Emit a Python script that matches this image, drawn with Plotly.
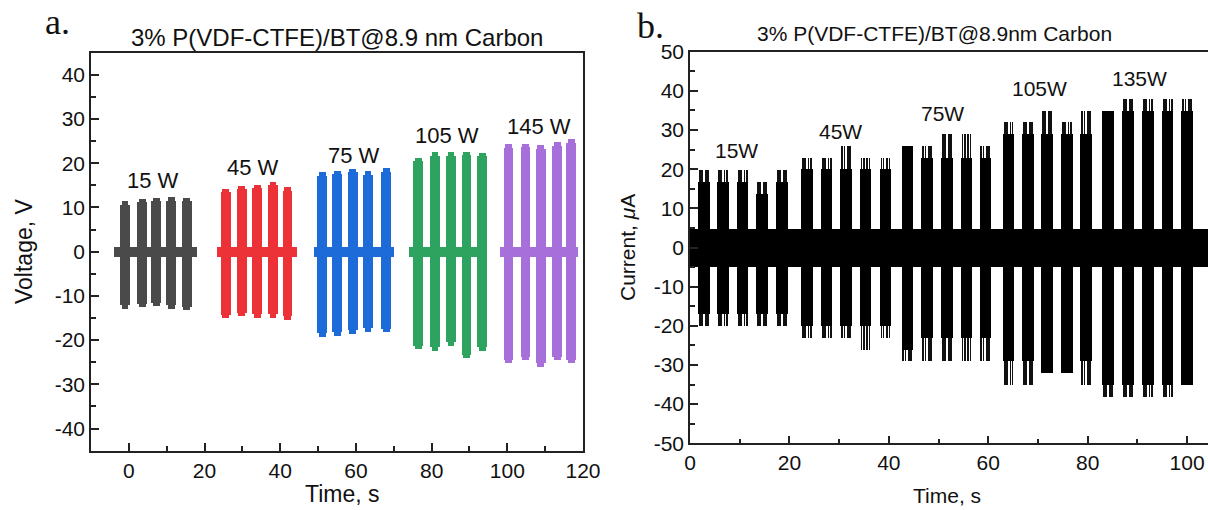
import plotly.graph_objects as go

# ---------------- Panel a: voltage bursts at five wind powers ----------------
powers_a = ["15 W", "45 W", "75 W", "105 W", "145 W"]
colors_a = ["#4a4a4a", "#ec3237", "#1c6bd8", "#2ea25f", "#a66fd9"]

# burst centre times (s) for each power level
t_a = [
    [-1.0, 3.5, 7.2, 11.2, 15.3],
    [25.6, 29.8, 33.9, 38.1, 41.9],
    [51.1, 55.1, 59.2, 63.2, 68.0],
    [76.5, 80.9, 85.1, 89.2, 93.4],
    [100.3, 104.8, 108.8, 113.2, 116.9],
]
# positive / negative voltage peaks (V) of each burst
vpos_a = [
    [11.5, 12.0, 12.3, 12.4, 12.3],
    [14.3, 15.0, 15.2, 15.9, 14.6],
    [18.0, 18.4, 18.8, 18.3, 18.9],
    [21.3, 22.6, 22.6, 22.7, 22.5],
    [24.4, 24.5, 24.2, 24.8, 25.5],
]
vneg_a = [
    [-12.8, -12.5, -12.3, -12.8, -13.2],
    [-15.0, -14.5, -14.9, -14.9, -15.3],
    [-19.2, -19.0, -18.5, -18.0, -18.2],
    [-22.0, -22.3, -21.2, -24.0, -22.3],
    [-25.2, -24.5, -26.0, -24.5, -25.2],
]
# recording window of each power level (s) and its idle noise level (V)
rec_start_a = [-3.9, 23.3, 49.0, 74.0, 98.0]
rec_end_a = [18.0, 44.3, 70.0, 94.7, 118.6]
noise_a = 1.1
# label anchor points (time, voltage)
lab_t_a = [6.5, 32.7, 59.4, 84.1, 108.5]
lab_v_a = [16.0, 19.1, 21.7, 26.3, 28.3]
yticks_a = [-40, -30, -20, -10, 0, 10, 20, 30, 40]

# ---------------- Panel b: current bursts ----------------
powers_b = ["15W", "45W", "75W", "105W", "135W"]
t_b = [
    [2.8, 6.6, 10.6, 14.5, 18.5],
    [23.5, 27.5, 31.4, 35.3, 39.3],
    [43.7, 47.7, 51.7, 55.6, 59.4],
    [64.1, 68.0, 71.8, 75.8, 79.7],
    [84.1, 88.1, 92.1, 96.1, 100.0],
]
# solid body level and thin spike level of each burst (uA)
ipos_body_b = [
    [16.8, 16.8, 16.8, 13.7, 16.8],
    [20.0, 20.0, 20.0, 20.0, 20.0],
    [26.0, 23.0, 23.0, 23.0, 23.0],
    [29.0, 29.0, 29.0, 29.0, 29.0],
    [35.0, 35.0, 35.0, 35.0, 35.0],
]
ipos_spike_b = [
    [19.8, 19.8, 19.8, 16.8, 19.8],
    [23.0, 23.0, 26.0, 23.0, 23.0],
    [26.0, 26.0, 29.0, 29.0, 26.0],
    [32.0, 32.0, 35.0, 32.0, 35.0],
    [35.0, 38.0, 38.0, 38.0, 38.0],
]
ineg_body_b = [
    [-17.0, -17.0, -17.0, -17.0, -17.0],
    [-20.0, -20.0, -20.0, -20.0, -20.0],
    [-26.0, -23.0, -23.0, -23.0, -23.0],
    [-29.0, -29.0, -32.0, -32.0, -29.0],
    [-35.0, -35.0, -35.0, -35.0, -35.0],
]
ineg_spike_b = [
    [-20.0, -20.0, -20.0, -20.0, -20.0],
    [-23.0, -23.0, -23.0, -26.0, -23.0],
    [-29.0, -29.0, -29.0, -29.0, -29.0],
    [-35.0, -35.0, -32.0, -32.0, -35.0],
    [-38.0, -38.0, -38.0, -38.0, -35.0],
]
rec_b = [0.0, 104.5]
noise_b = 4.8
lab_t_b = [9.4, 30.2, 50.8, 70.4, 90.5]
lab_i_b = [24.7, 29.7, 34.2, 40.5, 43.2]
yticks_b = [-50, -40, -30, -20, -10, 0, 10, 20, 30, 40, 50]

FONT = "Liberation Sans, Arial, sans-serif"
SERIF = "Liberation Serif, Times New Roman, serif"
AXC = "#222222"
TXT = "#111111"


def tick_text(vals):
    # plain hyphen for negative numbers
    return [str(v) for v in vals]


fig = go.Figure()

# panel a: idle noise band, wide burst body and narrower peak part
BW_A = 2.6
BW_A_TOP = 1.8
for k in range(5):
    s, e = rec_start_a[k], rec_end_a[k]
    col = colors_a[k]
    fig.add_trace(go.Bar(
        x=[(s + e) / 2], y=[2 * noise_a], base=[-noise_a], width=[e - s],
        marker=dict(color=col, line=dict(width=0)),
        xaxis="x", yaxis="y", showlegend=False, hoverinfo="skip"))
    body_top = [p - 0.8 for p in vpos_a[k]]
    body_bot = [n + 0.8 for n in vneg_a[k]]
    fig.add_trace(go.Bar(
        x=t_a[k], y=[p - n for p, n in zip(body_top, body_bot)], base=body_bot,
        width=BW_A, marker=dict(color=col, line=dict(width=0)),
        name=powers_a[k], xaxis="x", yaxis="y", showlegend=False))
    fig.add_trace(go.Bar(
        x=t_a[k], y=[p - n for p, n in zip(vpos_a[k], vneg_a[k])], base=vneg_a[k],
        width=BW_A_TOP, marker=dict(color=col, line=dict(width=0)),
        xaxis="x", yaxis="y", showlegend=False, hoverinfo="skip"))

# panel b
BW_B = 2.3
fig.add_trace(go.Bar(
    x=[(rec_b[0] + rec_b[1]) / 2], y=[2 * noise_b], base=[-noise_b],
    width=[rec_b[1] - rec_b[0]], marker=dict(color="black", line=dict(width=0)),
    xaxis="x2", yaxis="y2", showlegend=False, hoverinfo="skip"))
for k in range(5):
    fig.add_trace(go.Bar(
        x=t_b[k], y=[p - n for p, n in zip(ipos_body_b[k], ineg_body_b[k])],
        base=ineg_body_b[k], width=BW_B,
        marker=dict(color="black", line=dict(width=0)),
        name=powers_b[k], xaxis="x2", yaxis="y2", showlegend=False))
    # thin spike lines above and below the solid body
    offs = [-0.8, -0.35, 0.35, 0.8]
    xs, hs, bs = [], [], []
    for t, pb, ps, nb, ns in zip(t_b[k], ipos_body_b[k], ipos_spike_b[k],
                                 ineg_body_b[k], ineg_spike_b[k]):
        for o in offs:
            if ps > pb:
                xs.append(t + o); bs.append(pb); hs.append(ps - pb)
            if ns < nb:
                xs.append(t + o); bs.append(ns); hs.append(nb - ns)
    fig.add_trace(go.Bar(
        x=xs, y=hs, base=bs, width=0.14,
        marker=dict(color="#111111", line=dict(width=0)),
        xaxis="x2", yaxis="y2", showlegend=False, hoverinfo="skip"))

minor_style = dict(ticks="inside", ticklen=5, tickcolor=AXC, tickwidth=1.5)
axis_common = dict(showline=True, linecolor=AXC, linewidth=1.6, mirror=True,
                   ticks="inside", ticklen=8, tickwidth=1.5, tickcolor=AXC,
                   showgrid=False, zeroline=False, automargin=False,
                   tickfont=dict(family=FONT, size=21, color=TXT))

fig.update_layout(
    width=1208, height=510,
    margin=dict(l=0, r=0, t=0, b=0, pad=0, autoexpand=False),
    paper_bgcolor="white", plot_bgcolor="white", barmode="overlay", bargap=0,
    xaxis=dict(domain=[91 / 1208, 583 / 1208], range=[-10, 120], tick0=0, dtick=20,
               minor=dict(dtick=10, **minor_style), anchor="y", **axis_common),
    yaxis=dict(domain=[(510 - 450.7) / 510, (510 - 52.7) / 510], range=[-45, 45],
               tickvals=yticks_a, ticktext=tick_text(yticks_a),
               minor=dict(dtick=5, **minor_style), anchor="x", **axis_common),
    xaxis2=dict(domain=[690 / 1208, 1.0], range=[0, 104.2], tick0=0, dtick=20,
                minor=dict(dtick=10, **minor_style), anchor="y2", **axis_common),
    yaxis2=dict(domain=[(510 - 443.3) / 510, (510 - 51.7) / 510], range=[-50, 50],
                tickvals=yticks_b, ticktext=tick_text(yticks_b),
                minor=dict(dtick=5, **minor_style), anchor="x2",
                **{**axis_common, "mirror": False}),
)


def note(x, y, text, size, family=FONT, angle=0):
    return dict(x=x / 1208, y=(510 - y) / 510, xref="paper", yref="paper",
                xanchor="center", yanchor="middle", text=text, textangle=angle,
                showarrow=False, font=dict(family=family, size=size, color=TXT))


ann = []
for k in range(5):
    ann.append(dict(x=lab_t_a[k], y=lab_v_a[k], xref="x", yref="y", text=powers_a[k],
                    xanchor="center", yanchor="middle", showarrow=False,
                    font=dict(family=FONT, size=22, color=TXT)))
    ann.append(dict(x=lab_t_b[k], y=lab_i_b[k], xref="x2", yref="y2", text=powers_b[k],
                    xanchor="center", yanchor="middle", showarrow=False,
                    font=dict(family=FONT, size=21, color=TXT)))

ann += [
    note(337, 38, "3% P(VDF-CTFE)/BT@8.9 nm Carbon", 24),
    note(934, 34, "3% P(VDF-CTFE)/BT@8.9nm Carbon", 21),
    note(57, 22, "a.", 36, SERIF),
    note(650, 26, "b.", 36, SERIF),
    note(342, 494, "Time, s", 23),
    note(947, 495, "Time, s", 21),
    note(24, 251, "Voltage, V", 23, angle=-90),
    note(627, 248, "Current, <i>μ</i>A", 21, angle=-90),
]
fig.update_layout(annotations=ann)

fig.write_html("out.html")
